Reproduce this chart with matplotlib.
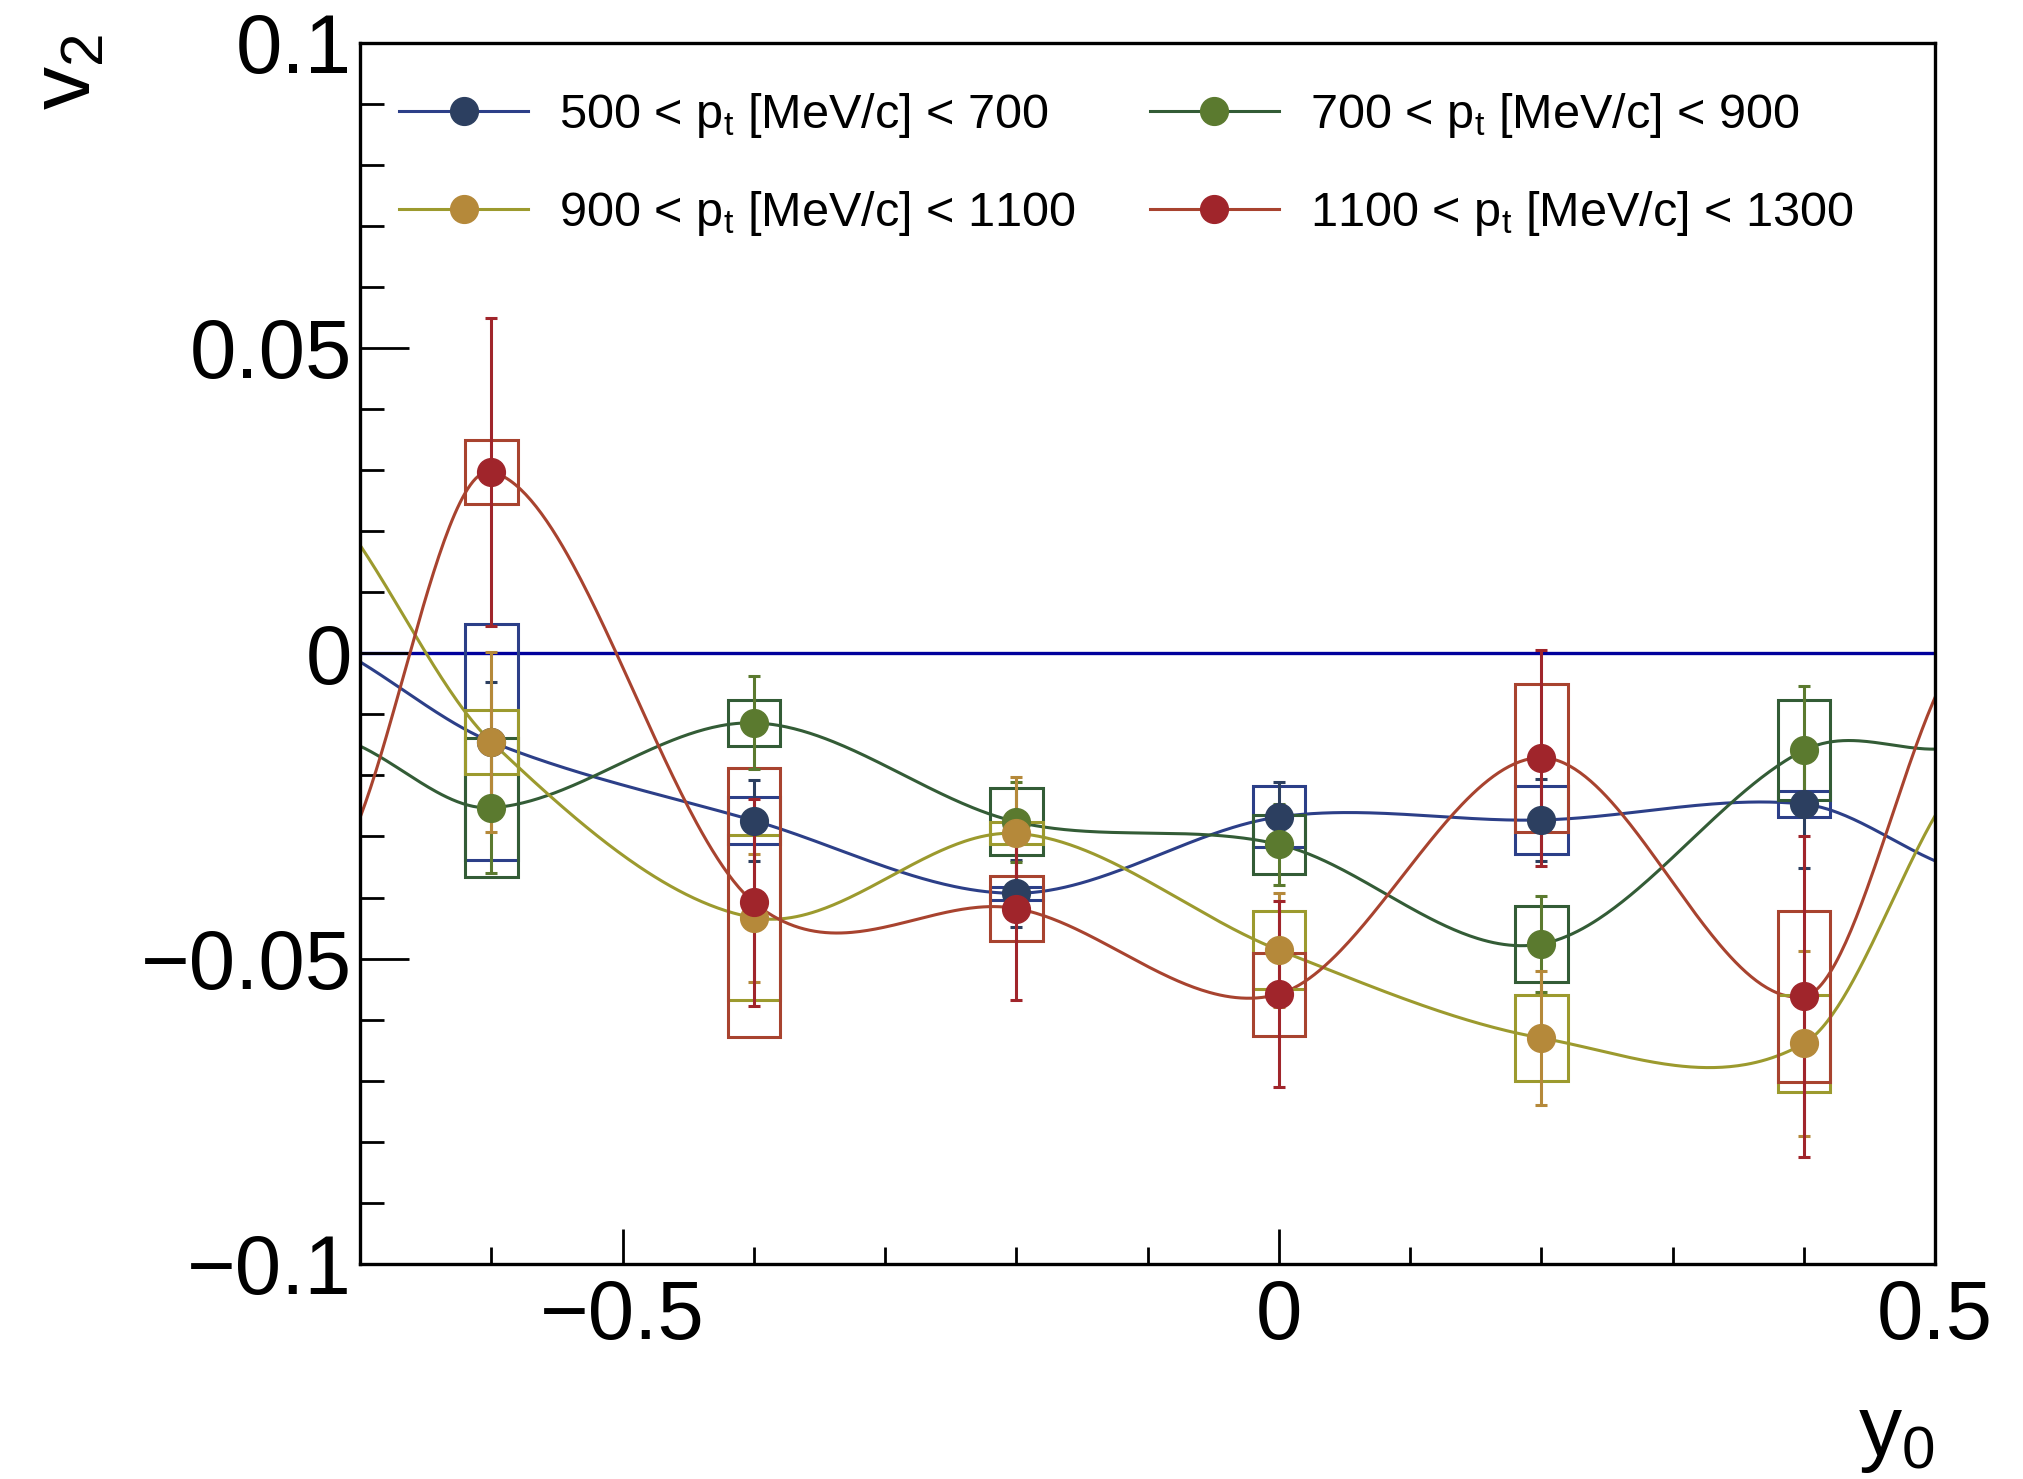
import numpy as np
import matplotlib
matplotlib.use("Agg")
import matplotlib.pyplot as plt
from matplotlib.ticker import MultipleLocator, FuncFormatter

plt.rcParams["font.family"] = ["Liberation Sans", "DejaVu Sans"]
plt.rcParams["mathtext.fontset"] = "custom"
plt.rcParams["mathtext.rm"] = "Liberation Sans"
plt.rcParams["mathtext.it"] = "Liberation Sans"

# rapidity bins
y0 = [-0.6, -0.4, -0.2, 0.0, 0.2, 0.4]

labels = [r"500 < p$_\mathregular{t}$ [MeV/c] < 700",
          r"700 < p$_\mathregular{t}$ [MeV/c] < 900",
          r"900 < p$_\mathregular{t}$ [MeV/c] < 1100",
          r"1100 < p$_\mathregular{t}$ [MeV/c] < 1300"]

v2_500 = [-0.0145, -0.0274, -0.0393, -0.0268, -0.0273, -0.0247]
stat_500 = [0.0098, 0.0066, 0.0055, 0.0057, 0.0067, 0.0105]
sys_500 = [0.0193, 0.0038, 0.0011, 0.0050, 0.0056, 0.0021]

v2_700 = [-0.0253, -0.0114, -0.0276, -0.0313, -0.0476, -0.0159]
stat_700 = [0.0106, 0.0076, 0.0065, 0.0066, 0.0079, 0.0105]
sys_700 = [0.0114, 0.0038, 0.0055, 0.0048, 0.0062, 0.0082]

v2_900 = [-0.0145, -0.0433, -0.0295, -0.0486, -0.0630, -0.0639]
stat_900 = [0.0147, 0.0105, 0.0093, 0.0093, 0.0110, 0.0152]
sys_900 = [0.0052, 0.0135, 0.0018, 0.0064, 0.0071, 0.0080]

v2_1100 = [0.0297, -0.0408, -0.0418, -0.0558, -0.0171, -0.0562]
stat_1100 = [0.0252, 0.0170, 0.0150, 0.0152, 0.0177, 0.0263]
sys_1100 = [0.0052, 0.0220, 0.0053, 0.0068, 0.0121, 0.0140]

# where the smooth curves leave the frame (y0 = -0.7 and 0.5)
curve_left = [-0.0014, -0.0152, 0.0177, -0.0269]
curve_right = [-0.0340, -0.0157, -0.0266, -0.0072]

values = [v2_500, v2_700, v2_900, v2_1100]
stats = [stat_500, stat_700, stat_900, stat_1100]
syss = [sys_500, sys_700, sys_900, sys_1100]

marker_colors = ["#2c3f60", "#5b7a2f", "#b5893a", "#a0252b"]
line_colors = ["#2c3f88", "#335c36", "#9c9a2e", "#a8432f"]


def smooth(x, y, xe):
    """cubic hermite curve, centred-difference slopes"""
    x = np.asarray(x, float)
    y = np.asarray(y, float)
    m = np.empty_like(y)
    m[1:-1] = (y[2:] - y[:-2]) / (x[2:] - x[:-2])
    m[0] = (y[1] - y[0]) / (x[1] - x[0])
    m[-1] = (y[-1] - y[-2]) / (x[-1] - x[-2])
    i = np.clip(np.searchsorted(x, xe) - 1, 0, len(x) - 2)
    h = x[i + 1] - x[i]
    t = (xe - x[i]) / h
    h00 = 2 * t ** 3 - 3 * t ** 2 + 1
    h10 = t ** 3 - 2 * t ** 2 + t
    h01 = -2 * t ** 3 + 3 * t ** 2
    h11 = t ** 3 - t ** 2
    return h00 * y[i] + h10 * h * m[i] + h01 * y[i + 1] + h11 * h * m[i + 1]


fig = plt.figure(figsize=(20.24, 14.79), dpi=100)
ax = fig.add_axes([0.1779, 0.1454, 0.7782, 0.8258])

ax.axhline(0, color="#00009c", lw=2.4, zorder=1)

xfine = np.linspace(-0.7, 0.5, 600)
xc = [-0.7] + y0 + [0.5]
handles = []
for k, (v, st, sy, mc, lc, lab) in enumerate(zip(values, stats, syss, marker_colors,
                                                  line_colors, labels)):
    yc = [curve_left[k]] + v + [curve_right[k]]
    ax.plot(xfine, smooth(xc, yc, xfine), color=lc, lw=2.2, zorder=2)
    # systematic boxes
    bot = np.array(v) - np.array(sy)
    ax.bar(y0, 2 * np.array(sy), width=0.04, bottom=bot, fill=False,
           edgecolor=lc, linewidth=2.2, zorder=3)
    ax.errorbar(y0, v, yerr=st, fmt="none", ecolor=mc, elinewidth=2.2,
                capsize=4.5, capthick=2.2, zorder=4)
    ax.plot(y0, v, "o", color=mc, markersize=20, zorder=5)
    h, = ax.plot([], [], "-o", color=lc, markerfacecolor=mc,
                 markeredgecolor=mc, markersize=20, lw=2.2, label=lab)
    handles.append(h)

ax.set_xlim(-0.7, 0.5)
ax.set_ylim(-0.1, 0.1)

ax.xaxis.set_major_locator(MultipleLocator(0.5))
ax.xaxis.set_minor_locator(MultipleLocator(0.1))
ax.yaxis.set_major_locator(MultipleLocator(0.05))
ax.yaxis.set_minor_locator(MultipleLocator(0.01))


def fmt(val, pos):
    if abs(val) < 1e-9:
        return "0"
    return ("%g" % val).replace("-", "\u2212")


ax.xaxis.set_major_formatter(FuncFormatter(fmt))
ax.yaxis.set_major_formatter(FuncFormatter(fmt))

for s in ax.spines.values():
    s.set_linewidth(2.4)
ax.tick_params(axis="both", which="both", direction="in", top=False, right=False,
               width=2, labelsize=60)
ax.tick_params(axis="y", which="major", length=35, pad=6)
ax.tick_params(axis="y", which="minor", length=17)
ax.tick_params(axis="x", which="major", length=25, pad=10)
ax.tick_params(axis="x", which="minor", length=12)

# axis titles, ROOT style
fig.text(0.014, 0.977, r"v$_\mathregular{2}$", rotation=90, fontsize=62,
         ha="left", va="top")
fig.text(0.956, 0.003, r"y$_\mathregular{0}$", fontsize=62, ha="right", va="bottom")

# legend rows: (500, 700) then (900, 1100)
order = [0, 2, 1, 3]
ax.legend(handles=[handles[i] for i in order], ncol=2, loc="upper left",
          bbox_to_anchor=(0.025, 0.96), frameon=False, fontsize=35,
          handlelength=2.65, handletextpad=0.64, columnspacing=1.52,
          labelspacing=1.0, borderpad=0, borderaxespad=0)

fig.savefig("out.png", dpi=100)
